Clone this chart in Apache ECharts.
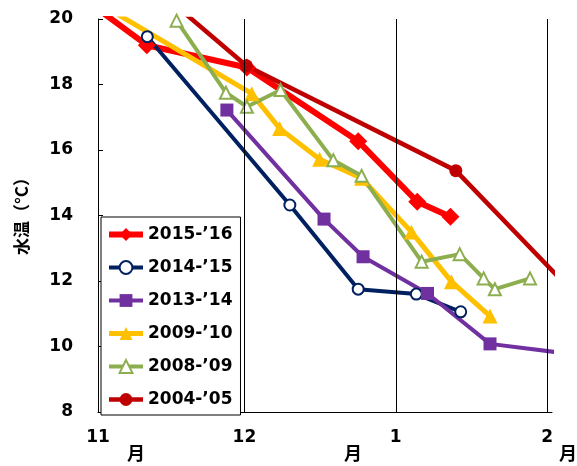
<!DOCTYPE html>
<html>
<head>
<meta charset="utf-8">
<script src="https://cdn.jsdelivr.net/npm/echarts@6/dist/echarts.min.js"></script>
<style>
  html, body { margin: 0; padding: 0; background: #fff; }
  #chart { width: 577px; height: 466px; }
</style>
</head>
<body>
<div id="chart"></div>
<script>
// Days are counted from 1 November; values are water temperature in °C.
const monthStarts = [0, 30, 61, 92];
const monthLabels = ['11', '12', '1', '2'];

const s1516Days = [0, 10, 30.5, 53.3, 65.4, 72.2];
const s1516Vals = [20.3, 19.2, 18.52, 16.27, 14.42, 13.96];

const s1415Days = [10.1, 39.3, 53.3, 65.2, 74.3];
const s1415Vals = [19.46, 14.32, 11.75, 11.6, 11.06];

const s1314Days = [26.4, 46.3, 54.3, 67.5, 80.3, 98];
const s1314Vals = [17.22, 13.89, 12.74, 11.62, 10.08, 9.75];

const s0910Days = [0, 31.5, 37.2, 45.4, 54.0, 64.2, 72.4, 80.3];
const s0910Vals = [20.5, 17.72, 16.66, 15.72, 15.14, 13.5, 11.98, 10.93];

const s0809Days = [16.1, 26.2, 30.5, 37.4, 48.2, 54.0, 66.3, 74.1, 79.0, 81.3, 88.5];
const s0809Vals = [19.95, 17.75, 17.32, 17.83, 15.69, 15.21, 12.59, 12.82, 12.08, 11.75, 12.08];

const s0405Days = [15, 30.4, 73.3, 100];
const s0405Vals = [20.53, 18.57, 15.37, 11.24];

const seasonNames = ['2015-’16', '2014-’15', '2013-’14', '2009-’10', '2008-’09', '2004-’05'];

const zip = (xs, ys) => xs.map((x, i) => [x, ys[i]]);

const FONT = '"DejaVu Sans", "Noto Sans CJK JP", sans-serif';
const CJK = '"Noto Sans CJK JP", "DejaVu Sans", sans-serif';

function season(name, days, vals, color, symbol, size, width, borderWidth) {
  return {
    name: name,
    type: 'line',
    data: zip(days, vals),
    symbol: symbol,
    symbolSize: size,
    showAllSymbol: true,
    clip: true,
    lineStyle: { color: color, width: width },
    itemStyle: { color: color, borderColor: color, borderWidth: borderWidth || 0 },
    emphasis: { disabled: true }
  };
}

const monthChar = (x) => ({
  type: 'text', x: x, y: 453,
  style: { text: '月', fill: '#000', font: 'bold 18px ' + CJK, align: 'center', verticalAlign: 'middle' }
});

const chart = echarts.init(document.getElementById('chart'));
chart.setOption({
  animation: false,
  backgroundColor: '#fff',
  grid: { left: 98, right: 25, top: 19, bottom: 54 },
  xAxis: {
    type: 'value',
    min: 0,
    max: 93,
    axisLine: { show: true, lineStyle: { color: '#000', width: 1 } },
    axisTick: { show: false },
    splitLine: { show: false },
    axisLabel: {
      customValues: monthStarts,
      formatter: v => monthLabels[monthStarts.indexOf(v)] || '',
      color: '#000',
      fontFamily: FONT,
      fontWeight: 'bold',
      fontSize: 17,
      margin: 17
    }
  },
  yAxis: {
    type: 'value',
    min: 8,
    max: 20,
    interval: 2,
    axisLine: { show: true, lineStyle: { color: '#000', width: 1 } },
    axisTick: { show: true, inside: true, length: 5, lineStyle: { color: '#000' } },
    splitLine: { show: false },
    axisLabel: {
      color: '#000',
      fontFamily: FONT,
      fontWeight: 'bold',
      fontSize: 17,
      margin: 25
    }
  },
  legend: {
    data: seasonNames,
    orient: 'vertical',
    left: 101,
    top: 217,
    backgroundColor: '#fff',
    borderColor: '#000',
    borderWidth: 1,
    borderRadius: 0,
    padding: [9, 8, 7, 5],
    itemWidth: 34,
    itemHeight: 16,
    itemGap: 16,
    selectedMode: false,
    lineStyle: { width: 'inherit' },
    textStyle: {
      color: '#000',
      fontFamily: FONT,
      fontWeight: 'bold',
      fontSize: 17,
      lineHeight: 17
    }
  },
  graphic: [
    {
      type: 'text',
      x: 22, y: 212,
      rotation: Math.PI / 2,
      style: {
        text: '水温（°C）',
        fill: '#000',
        font: 'bold 17px ' + CJK,
        align: 'center',
        verticalAlign: 'middle'
      }
    },
    monthChar(136),
    monthChar(353),
    monthChar(568)
  ],
  series: [
    {
      name: 'month-grid',
      type: 'line',
      data: [],
      silent: true,
      z: 1,
      markLine: {
        silent: true,
        symbol: 'none',
        label: { show: false },
        lineStyle: { color: '#000', width: 1, type: 'solid' },
        data: monthStarts.slice(1).map(d => ({ xAxis: d }))
      }
    },
    season(seasonNames[0], s1516Days, s1516Vals, '#FF0000', 'diamond', 18, 6),
    season(seasonNames[1], s1415Days, s1415Vals, '#002060', 'emptyCircle', 11, 4, 1.2),
    season(seasonNames[2], s1314Days, s1314Vals, '#7030A0', 'rect', 13, 4),
    season(seasonNames[3], s0910Days, s0910Vals, '#FFC000', 'triangle', 15, 5),
    season(seasonNames[4], s0809Days, s0809Vals, '#8DAE4F', 'emptyTriangle', 12, 4, 1),
    season(seasonNames[5], s0405Days, s0405Vals, '#C00000', 'circle', 13, 4.5)
  ]
});
</script>
</body>
</html>
